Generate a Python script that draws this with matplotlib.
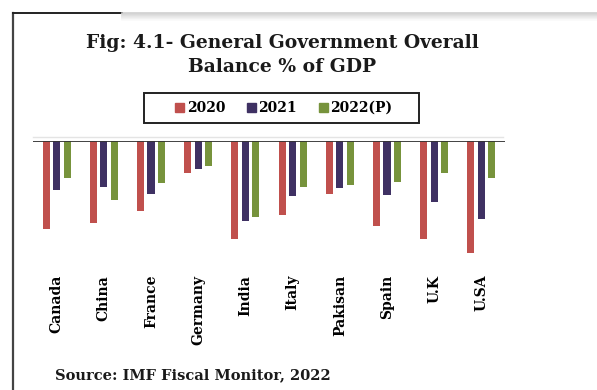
import numpy as np
import matplotlib
matplotlib.use('Agg')
import matplotlib.pyplot as plt
from matplotlib.lines import Line2D
from matplotlib.patches import Patch, Rectangle

# general government overall balance, % of GDP
countries = ['Canada', 'China', 'France', 'Germany', 'India',
             'Italy', 'Pakisan', 'Spain', 'U.K', 'U.SA']
bal_2020 = [-11.7, -10.9, -9.3, -4.3, -13.0, -9.8, -7.0, -11.3, -13.0, -14.9]
bal_2021 = [-6.5, -6.1, -7.0, -3.7, -10.6, -7.3, -6.3, -7.2, -8.1, -10.4]
bal_2022 = [-4.9, -7.8, -5.6, -3.3, -10.1, -6.1, -5.9, -5.5, -4.3, -4.9]
years = ['2020', '2021', '2022(P)']
colors = ['#C0504D', '#3F3163', '#77933C']

W, H = 597, 390
fig = plt.figure(figsize=(W / 100, H / 100), dpi=100)
fig.patch.set_facecolor('white')

def fx(px):
     return px / W

def fy(py):
     return 1 - py / H

serif = 'DejaVu Serif'

ax = fig.add_axes([fx(33), fy(261), fx(505) - fx(33), fy(141) - fy(261)])
x = np.arange(len(countries))
w = 0.15
step = 0.222
for i, (vals, c, lab) in enumerate(zip([bal_2020, bal_2021, bal_2022], colors, years)):
     ax.bar(x + (i - 1) * step, vals, width=w, color=c, label=lab)

ax.set_xlim(-0.5, len(countries) - 0.5)
ax.set_ylim(-16, 0)
ax.axhline(0, color='#333333', lw=1.3)
for s in ax.spines.values():
     s.set_visible(False)
ax.set_yticks([])
ax.set_xticks(x)
ax.set_xticklabels(countries, rotation=90, va='top', ha='center',
                   fontsize=10, fontweight='bold', family=serif)
ax.tick_params(axis='x', length=0, pad=10)

# title, legend, source
fig.text(fx(282), fy(43), 'Fig: 4.1- General Government Overall', ha='center', va='center',
         fontsize=13.5, fontweight='bold', family=serif, color='#1a1a1a')
fig.text(fx(282), fy(67), 'Balance % of GDP', ha='center', va='center',
         fontsize=13.5, fontweight='bold', family=serif, color='#1a1a1a')

handles = [Patch(color=c) for c in colors]
leg = fig.legend(handles, years, loc='center', bbox_to_anchor=(fx(284), fy(108)),
                 ncol=3, frameon=False, handlelength=0.6, handleheight=0.6,
                 handletextpad=0.2, columnspacing=1.6, borderpad=0.0,
                 prop={'family': serif, 'weight': 'bold', 'size': 10})
fig.add_artist(Rectangle((fx(144), fy(123)), fx(419) - fx(144), fy(93) - fy(123),
                         transform=fig.transFigure, fill=False, edgecolor='#222222', lw=1.4))

fig.text(fx(55), fy(375), 'Source: IMF Fiscal Monitor, 2022', ha='left', va='center',
         fontsize=10.5, fontweight='bold', family=serif, color='#1a1a1a')

# page frame around the figure
fig.add_artist(Line2D([fx(13), fx(13)], [fy(13), 0], color='#444444', lw=1.6))
fig.add_artist(Line2D([fx(13), fx(122)], [fy(13), fy(13)], color='#222222', lw=1.4))
for k in range(8):
     g = 0.80 + k * 0.025
     fig.add_artist(Line2D([fx(122), 1], [fy(13 + k), fy(13 + k)], color=(g, g, g), lw=1.1))
fig.add_artist(Line2D([fx(33), fx(503)], [fy(137), fy(137)], color='#e4e4e4', lw=1.0))

fig.savefig('out.png', dpi=100)
